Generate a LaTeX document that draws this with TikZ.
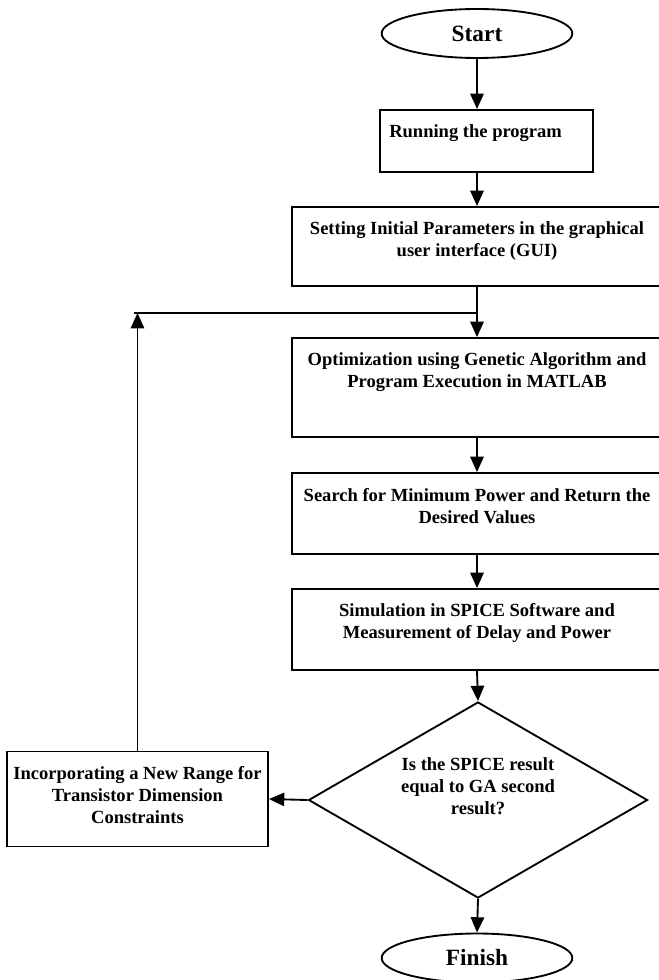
\documentclass[tikz,border=0pt]{standalone}
\usepackage{fontspec}
\setmainfont{Liberation Serif}
\usetikzlibrary{shapes.geometric,arrows.meta}
\tikzset{
  box/.style={draw, line width=1.4pt, rectangle, inner sep=0pt},
  term/.style={draw, line width=1.4pt, ellipse, inner sep=0pt,
    minimum width=143pt, minimum height=36.75pt,
    font=\fontsize{17.5}{21}\selectfont\bfseries},
  txt/.style={align=center, inner sep=0pt,
    font=\fontsize{13.9}{16.5}\selectfont\bfseries},
  arr/.style={line width=1.4pt, -{Triangle[length=11.5pt,width=10pt]}},
  ln/.style={line width=1.4pt}
}
\begin{document}
\begin{tikzpicture}[x=0.75pt,y=-0.75pt]
  \useasboundingbox (0,0) rectangle (658,980);
  % start and finish
  \node[term] (start) at (477,33.5) {Start};
  \node[term] (finish) at (477,958) {Finish};
  % process boxes
  \node[box, minimum width=159.75pt, minimum height=46.5pt] (run) at (486.5,141) {};
  \node[txt, anchor=west] (runtxt) at (389,133) {Running the program};
  \node[box, minimum width=277.5pt, minimum height=59.25pt] (set) at (477,246.5) {};
  \node[txt] (settxt) at (477,241)
    {Setting Initial Parameters in the graphical\\user interface (GUI)};
  \node[box, minimum width=277.5pt, minimum height=74.25pt] (opt) at (477,387.5) {};
  \node[txt] (opttxt) at (477,372.5)
    {Optimization using Genetic Algorithm and\\Program Execution in MATLAB};
  \node[box, minimum width=277.5pt, minimum height=60.75pt] (search) at (477,513.5) {};
  \node[txt] (searchtxt) at (477,506)
    {Search for Minimum Power and Return the\\Desired Values};
  \node[box, minimum width=277.5pt, minimum height=60.75pt] (sim) at (477,629.5) {};
  \node[txt] (simtxt) at (477,623)
    {Simulation in SPICE Software and\\Measurement of Delay and Power};
  % decision
  \node[draw, diamond, line width=1.4pt, inner sep=0pt,
    minimum width=254.25pt, minimum height=147pt] (dec) at (478,800) {};
  \node[txt] (dectxt) at (478,786)
    {Is the SPICE result\\equal to GA second\\result?};
  \node[box, minimum width=195.75pt, minimum height=71.25pt] (inc) at (137.5,799) {};
  \node[txt] (inctxt) at (137.5,795)
    {Incorporating a New Range for\\Transistor Dimension\\Constraints};
  % connectors
  \coordinate (junc) at (477,313);
  \coordinate (loop) at (134,313);
  \draw[arr] (start) -- (start |- run.north);
  \draw[arr] (start |- run.south) -- (set.north);
  \draw[ln] (set.south) -- (junc);
  \draw[arr] (junc) -- (opt.north);
  \draw[arr] (opt.south) -- (search.north);
  \draw[arr] (search.south) -- (sim.north);
  \draw[arr] (sim.south) -- (dec.north);
  \draw[arr] (dec.south) -- (finish.north);
  \draw[arr] (dec.west) -- (inc.east);
  \draw[arr] (inc.north) -- (inc.north |- junc);
  \draw[ln] (loop) -- (junc);
\end{tikzpicture}
\end{document}
